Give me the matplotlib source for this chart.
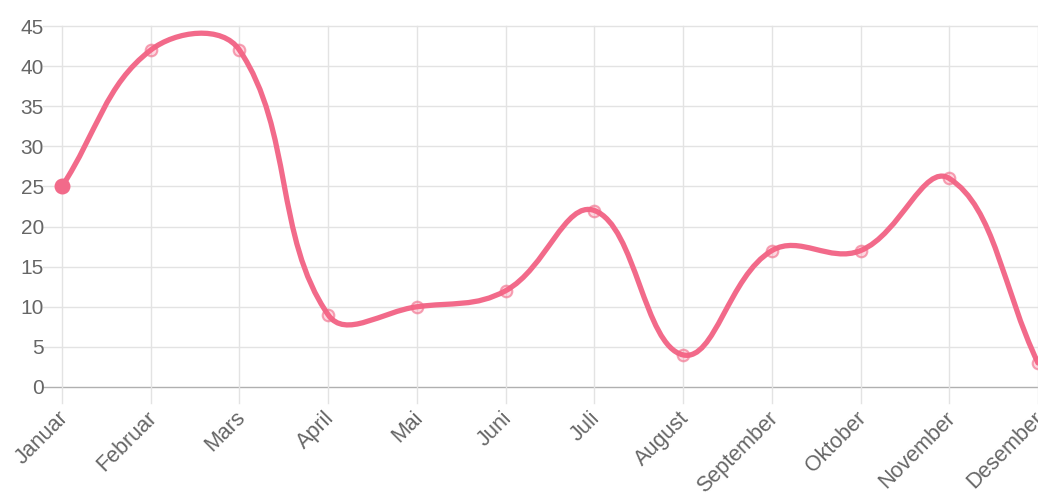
import matplotlib
matplotlib.use("Agg")
import matplotlib.pyplot as plt
import numpy as np
from matplotlib.path import Path
from matplotlib.patches import PathPatch

months = ["Januar", "Februar", "Mars", "April", "Mai", "Juni", "Juli",
          "August", "September", "Oktober", "November", "Desember"]
values = [25, 42, 42, 9, 10, 12, 22, 4, 17, 17, 26, 3]
y_ticks = [0, 5, 10, 15, 20, 25, 30, 35, 40, 45]

line_color = "#f26a8a"
grid_color = "#e3e3e3"
text_color = "#666666"
tension = 0.4

plt.rcParams["font.family"] = ["Liberation Sans", "DejaVu Sans"]

fig = plt.figure(figsize=(10.38, 4.96), dpi=100)
W, H = 1038, 496
left, right, bottom, top = 62, 1038, 387, 26
ax = fig.add_axes([left / W, (H - bottom) / H, (right - left) / W, (bottom - top) / H])
ax.set_xlim(0, len(months) - 1)
ax.set_ylim(0, 45)

# grid lines (extend a little outside the axes, chart.js style)
for yt in y_ticks:
    ax.plot([-0.21, len(months) - 1], [yt, yt], color=grid_color if yt else "#b0b0b0",
            lw=1, clip_on=False, zorder=1)
for i in range(len(months)):
    ax.plot([i, i], [-2.0, 45], color=grid_color, lw=1, clip_on=False, zorder=1)

for s in ax.spines.values():
    s.set_visible(False)
ax.set_xticks(range(len(months)))
ax.set_xticklabels([])
ax.set_yticks(y_ticks)
ax.tick_params(axis="both", length=0, colors=text_color)
ax.set_yticklabels([str(v) for v in y_ticks], fontsize=15, color=text_color)
ax.tick_params(axis="y", pad=13)

for i, m in enumerate(months):
    ax.annotate(m, xy=(i, 0), xytext=(2, -20), textcoords="offset points",
                rotation=45, ha="right", va="center", rotation_mode="anchor",
                fontsize=15.5, color=text_color, annotation_clip=False)

# chart.js style spline (tension 0.4), control points computed in pixel space
sx = (right - left) / (len(months) - 1)
sy = (bottom - top) / 45.0
px = np.arange(len(values)) * sx
py = np.array(values, dtype=float) * sy
n = len(values)
cps = []
for i in range(n):
    p0 = (px[max(i - 1, 0)], py[max(i - 1, 0)])
    p1 = (px[i], py[i])
    p2 = (px[min(i + 1, n - 1)], py[min(i + 1, n - 1)])
    d01 = np.hypot(p1[0] - p0[0], p1[1] - p0[1])
    d12 = np.hypot(p2[0] - p1[0], p2[1] - p1[1])
    tot = d01 + d12
    s01 = d01 / tot if tot else 0
    s12 = d12 / tot if tot else 0
    fa, fb = tension * s01, tension * s12
    prev_cp = (p1[0] - fa * (p2[0] - p0[0]), p1[1] - fa * (p2[1] - p0[1]))
    next_cp = (p1[0] + fb * (p2[0] - p0[0]), p1[1] + fb * (p2[1] - p0[1]))
    cps.append((prev_cp, next_cp))

verts = [(px[0] / sx, py[0] / sy)]
codes = [Path.MOVETO]
for i in range(n - 1):
    c1 = cps[i][1]
    c2 = cps[i + 1][0]
    verts += [(c1[0] / sx, c1[1] / sy), (c2[0] / sx, c2[1] / sy), (px[i + 1] / sx, py[i + 1] / sy)]
    codes += [Path.CURVE4] * 3
ax.add_patch(PathPatch(Path(verts, codes), fill=False, edgecolor=line_color,
                       lw=3.8, capstyle="round", joinstyle="round", zorder=3))

xs = np.arange(n)
ax.scatter(xs[1:], values[1:], s=70, facecolors=(1, 0.39, 0.52, 0.25),
           edgecolors=(0.94, 0.4, 0.52, 0.6), linewidths=1.5, zorder=4, clip_on=False)
ax.scatter([0], [values[0]], s=110, color=line_color, zorder=5, clip_on=False)

fig.savefig("out.png", dpi=100)
